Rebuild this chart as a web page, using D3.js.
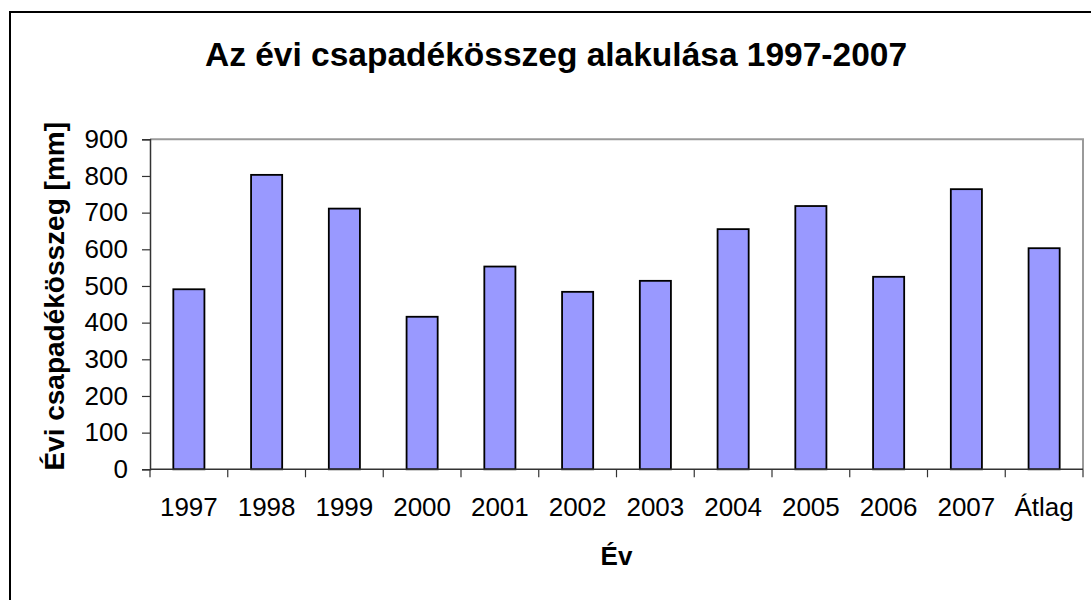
<!DOCTYPE html>
<html>
<head>
<meta charset="utf-8">
<script src="https://cdn.jsdelivr.net/npm/d3@7"></script>
<style>
  html, body { margin: 0; padding: 0; background: #fff; }
  svg { display: block; font-family: "Liberation Sans", Arial, sans-serif; }
</style>
</head>
<body>
<svg id="chart" width="1091" height="600"></svg>
<script>
const categories = ["1997","1998","1999","2000","2001","2002","2003","2004","2005","2006","2007","Átlag"];
const values = [491, 803, 711, 416, 553, 484, 514, 655, 718, 525, 764, 603];
const yTicks = [0,100,200,300,400,500,600,700,800,900];
const titleText = "Az évi csapadékösszeg alakulása 1997-2007";
const xTitle = "Év";
const yTitle = "Évi csapadékösszeg [mm]";

const svg = d3.select("#chart");
const plot = { left: 150, right: 1083, top: 139.3, bottom: 469.3 };

// outer chart border
svg.append("rect")
  .attr("x", 10).attr("y", 12)
  .attr("width", 1100).attr("height", 620)
  .attr("fill", "#fff").attr("stroke", "#000").attr("stroke-width", 2);

const xb = d3.scaleBand().domain(categories).range([plot.left, plot.right]);
const y = d3.scaleLinear().domain([0, 900]).range([plot.bottom, plot.top]);

// plot area border (top/right gray)
svg.append("path")
  .attr("d", `M${plot.left},${plot.top}H${plot.right}V${plot.bottom}`)
  .attr("fill", "none").attr("stroke", "#9a9a9a").attr("stroke-width", 2);

// bars
svg.append("g").selectAll("rect").data(values).join("rect")
  .attr("x", (d, i) => xb(categories[i]) + xb.bandwidth() / 2 - xb.bandwidth() / 5)
  .attr("width", xb.bandwidth() * 2 / 5)
  .attr("y", d => y(d))
  .attr("height", d => y(0) - y(d))
  .attr("fill", "#9999ff").attr("stroke", "#000").attr("stroke-width", 1.8);

// y axis
const yAxis = svg.append("g").attr("transform", `translate(${plot.left},0)`)
  .call(d3.axisLeft(y).tickValues(yTicks).tickSize(8).tickPadding(14).tickFormat(d3.format("d")));
yAxis.select(".domain").attr("stroke", "#333").attr("stroke-width", 1.5);
yAxis.selectAll(".tick line").attr("stroke", "#333").attr("stroke-width", 1.2);
yAxis.selectAll(".tick text").attr("font-size", 26).attr("fill", "#000")
  .attr("font-family", "Liberation Sans, Arial, sans-serif");

// x axis with ticks between categories
const xAxisG = svg.append("g").attr("transform", `translate(0,${plot.bottom})`);
xAxisG.append("line").attr("x1", plot.left).attr("x2", plot.right)
  .attr("stroke", "#333").attr("stroke-width", 1.5);
const boundaries = categories.map(c => xb(c)).concat([plot.right]);
xAxisG.selectAll("line.tk").data(boundaries).join("line").attr("class", "tk")
  .attr("x1", d => d).attr("x2", d => d).attr("y1", 0).attr("y2", 8)
  .attr("stroke", "#333").attr("stroke-width", 1.2);
xAxisG.selectAll("text").data(categories).join("text")
  .attr("x", d => xb(d) + xb.bandwidth() / 2)
  .attr("y", 47)
  .attr("text-anchor", "middle")
  .attr("font-size", 26).attr("fill", "#000")
  .text(d => d);

// title
svg.append("text").attr("x", 556).attr("y", 66).attr("text-anchor", "middle")
  .attr("font-size", 33.5).attr("font-weight", "bold").text(titleText);

// axis titles
svg.append("text").attr("x", (plot.left + plot.right) / 2).attr("y", 565)
  .attr("text-anchor", "middle").attr("font-size", 26).attr("font-weight", "bold").text(xTitle);
svg.append("text").attr("transform", `translate(64,${(plot.top + plot.bottom) / 2 - 8}) rotate(-90)`)
  .attr("text-anchor", "middle").attr("font-size", 28).attr("font-weight", "bold").text(yTitle);
</script>
</body>
</html>
